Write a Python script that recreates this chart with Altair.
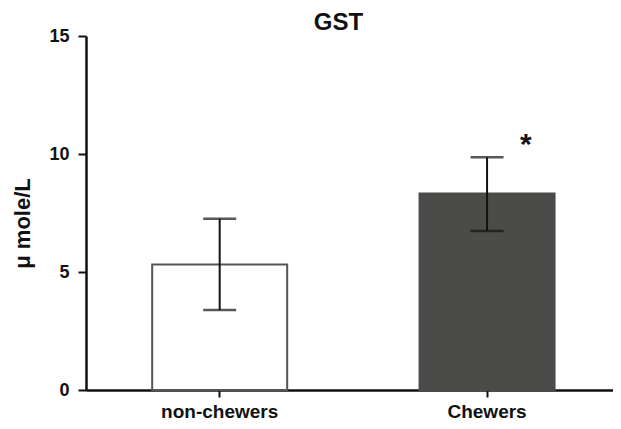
import altair as alt
import pandas as pd

groups = ["non-chewers", "Chewers"]
means = [5.32, 8.33]
err_low = [3.39, 6.74]
err_high = [7.26, 9.86]
marks = ["", "*"]
fills = ["#ffffff", "#4b4b49"]
strokes = ["#555555", "#4b4b49"]
y_ticks = [0, 5, 10, 15]

df = pd.DataFrame({"group": groups, "mean": means, "lo": err_low, "hi": err_high, "mark": marks})

FONT = "Liberation Sans"

x = alt.X("group:N", sort=groups,
          scale=alt.Scale(domain=groups, paddingInner=0.495, paddingOuter=0.233, align=0.531),
          axis=alt.Axis(title=None, labelAngle=0, labelFontSize=19, labelFontWeight="bold",
                        labelFont=FONT, labelColor="#111111", labelPadding=5,
                        tickSize=7, tickWidth=2, tickColor="#111111",
                        domainWidth=2.5, domainColor="#111111", grid=False))

yscale = alt.Scale(domain=[0, 15], nice=False, zero=True)
yaxis = alt.Axis(values=y_ticks, title="μ mole/L", titleFont=FONT, titleFontSize=22,
                 titleFontWeight="bold", titleColor="#111111", titleAngle=270,
                 titleX=-56.5, titleY=187, titleAlign="center", titleBaseline="alphabetic",
                 labelFontSize=18, labelFontWeight="bold", labelFont=FONT, labelColor="#111111",
                 labelPadding=9, tickSize=8, tickWidth=2, tickColor="#111111",
                 domainWidth=2.5, domainColor="#111111", grid=False)

base = alt.Chart(df)

bars = base.mark_bar(strokeWidth=2, size=135).encode(
    x=x,
    y=alt.Y("mean:Q", scale=yscale, axis=yaxis),
    fill=alt.Fill("group:N", scale=alt.Scale(domain=groups, range=fills), legend=None),
    stroke=alt.Stroke("group:N", scale=alt.Scale(domain=groups, range=strokes), legend=None),
)

rules = base.mark_rule(color="#111111", strokeWidth=2).encode(
    x=alt.X("group:N", sort=groups),
    y=alt.Y("lo:Q", scale=yscale),
    y2="hi:Q",
)

cap_lo = base.mark_tick(color="#111111", size=33, thickness=2.5).encode(
    x=alt.X("group:N", sort=groups),
    y=alt.Y("lo:Q", scale=yscale),
)
cap_hi = base.mark_tick(color="#111111", size=33, thickness=2.5).encode(
    x=alt.X("group:N", sort=groups),
    y=alt.Y("hi:Q", scale=yscale),
)

star = base.mark_text(font=FONT, fontSize=30, fontWeight="bold", color="#111111",
                      baseline="alphabetic", align="center", dx=38.7, dy=-3).encode(
    x=alt.X("group:N", sort=groups),
    y=alt.Y("hi:Q", scale=yscale),
    text="mark:N",
)

chart = alt.layer(bars, rules, cap_lo, cap_hi, star).properties(
    width=527,
    height=354,
    background="white",
    title=alt.TitleParams("GST", font=FONT, fontSize=24, fontWeight="bold", color="#111111",
                          anchor="middle", frame="group", offset=-7.5, dx=-11),
    autosize=alt.AutoSizeParams(type="none"),
    padding={"left": 78, "top": 28, "right": 0, "bottom": 31},
).configure_view(stroke=None).configure_axis(grid=False)

chart.save("out.html", embed_options={"renderer": "svg", "actions": False})
